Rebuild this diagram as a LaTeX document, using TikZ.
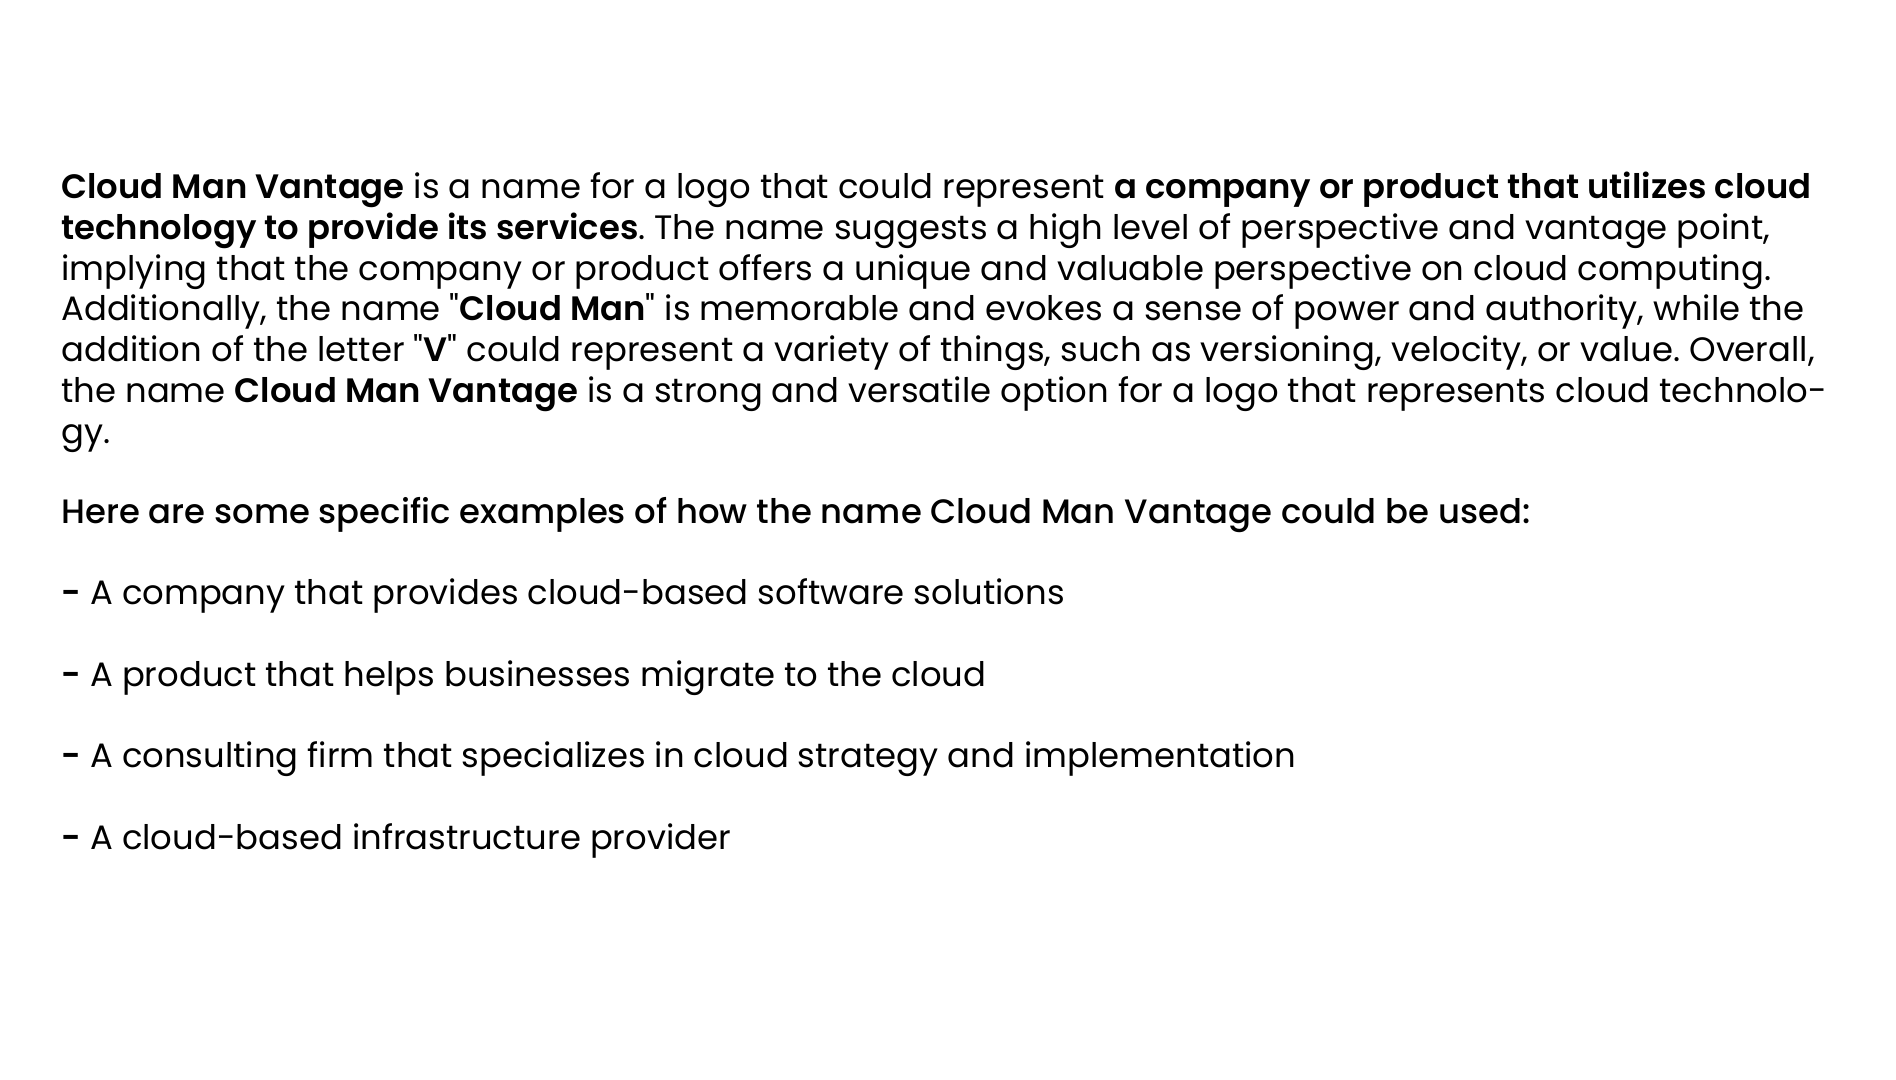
\documentclass[tikz,border=0pt]{standalone}
\usepackage{fontspec}
\setmainfont{Poppins}[BoldFont={Poppins SemiBold}]
\newfontfamily\medfont{Poppins Medium}
\newfontfamily\qfont{Poppins}
\newcommand{\dq}{{\qfont\symbol{34}}}
\frenchspacing
\tikzset{
  txtline/.style={anchor=base west,inner sep=0pt,font=\fontsize{16.92}{20.4}\selectfont},
}
\begin{document}
\begin{tikzpicture}[x=1pt,y=1pt]
        \fill[white] (0,0) rectangle (948,540);
        \node[txtline] (p1) at (30.5,440.7) {\textbf{Cloud Man Vantage} is a name for a logo that could represent \textbf{a company or product that utilizes cloud}};
        \node[txtline] (p2) at (30.5,420.3) {\textbf{technology to provide its services}. The name suggests a high level of perspective and vantage point,};
        \node[txtline] (p3) at (30.5,399.9) {implying that the company or product offers a unique and valuable perspective on cloud computing.};
        \node[txtline] (p4) at (30.5,379.5) {Additionally, the name \dq\textbf{Cloud Man}\dq{} is memorable and evokes a sense of power and authority, while the};
        \node[txtline] (p5) at (30.5,359.1) {addition of the letter \dq\textbf{V}\dq{} could represent a variety of things, such as versioning, velocity, or value. Overall,};
        \node[txtline] (p6) at (30.5,338.7) {the name \textbf{Cloud Man Vantage} is a strong and versatile option for a logo that represents cloud technolo-};
        \node[txtline] (p7) at (30.5,318.3) {gy.};
        \node[txtline] (head) at (30.5,278.2) {\medfont Here are some specific examples of how the name Cloud Man Vantage could be used:};
        \node[txtline] (b1) at (30.5,237.7) {\textbf{-} A company that provides cloud-based software solutions};
        \node[txtline] (b2) at (30.5,196.9) {\textbf{-} A product that helps businesses migrate to the cloud};
        \node[txtline] (b3) at (30.5,156.1) {\textbf{-} A consulting firm that specializes in cloud strategy and implementation};
        \node[txtline] (b4) at (30.5,115.3) {\textbf{-} A cloud-based infrastructure provider};
    \end{tikzpicture}
\end{document}
